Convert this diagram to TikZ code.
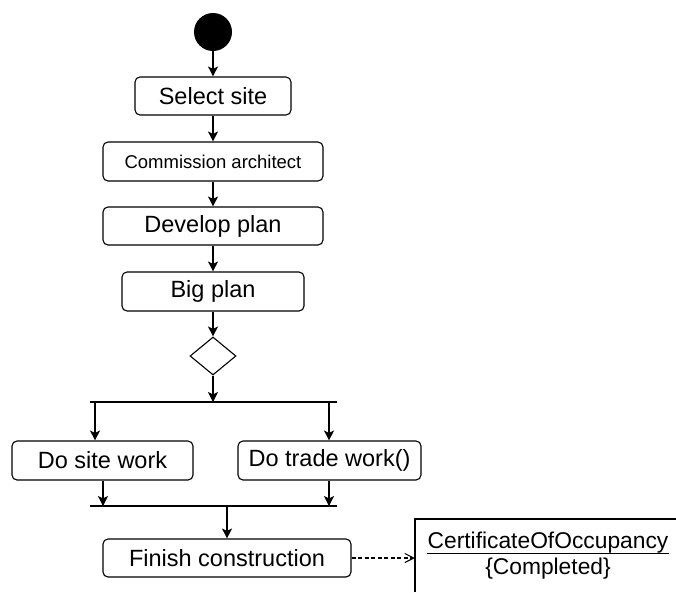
\documentclass[tikz,border=0pt]{standalone}
\usepackage{fontspec}
\setmainfont{Liberation Sans}
\usetikzlibrary{arrows.meta,shapes.geometric}
\tikzset{
  act/.style={draw, line width=1.1pt, rounded corners=5pt, inner sep=0pt, font=\fontsize{23.5}{27}\selectfont},
  smallact/.style={act, font=\fontsize{18.5}{22}\selectfont},
  flow/.style={line width=1.1pt, -{Stealth[length=10pt,width=10pt,inset=2.5pt]}},
  bar/.style={line width=1.1pt},
  dep/.style={line width=1.1pt, dash pattern=on 4pt off 2.5pt, -{Straight Barb[length=9pt,width=9pt]}},
  plain/.style={font=\fontsize{22.8}{26}\selectfont, inner sep=0pt, anchor=center},
}
\begin{document}
\begin{tikzpicture}[x=1pt,y=-1pt]
\useasboundingbox (0,0) rectangle (676,592);
\node[circle, fill=black, minimum size=38pt, inner sep=0pt] (start) at (213,32) {};
\node[act, minimum width=156pt, minimum height=38pt] (sel) at (213,96) {Select site};
\node[smallact, minimum width=220pt, minimum height=39pt] (com) at (213,161.5) {Commission architect};
\node[act, minimum width=220pt, minimum height=38pt] (dev) at (213,226) {Develop plan};
\node[act, minimum width=182pt, minimum height=39pt] (big) at (213,291.5) {Big plan};
\node[diamond, draw, line width=1.1pt, minimum width=46pt, minimum height=38pt, inner sep=0pt] (dec) at (213,356) {};
\coordinate (forkL) at (90,402);
\coordinate (forkR) at (337,402);
\coordinate (forkM) at (213,402);
\coordinate (forkA) at (95,402);
\coordinate (forkB) at (329,402);
\node[act, minimum width=181pt, minimum height=39pt] (site) at (102.5,460.5) {Do site work};
\node[act, minimum width=183pt, minimum height=39pt] (trade) at (329.5,460.5) {Do trade work()};
\coordinate (joinL) at (90,506);
\coordinate (joinR) at (337,506);
\coordinate (joinA) at (103,506);
\coordinate (joinB) at (329,506);
\coordinate (joinM) at (227,506);
\node[act, minimum width=248pt, minimum height=38pt] (fin) at (227,558) {Finish construction};
\coordinate (certTL) at (415,519);
\coordinate (certBL) at (415,592);
\coordinate (certTR) at (676,519);
\coordinate (certIn) at (415,558);
\node[plain, anchor=base] (certname) at (548,548) {CertificateOfOccupancy};
\node[plain, anchor=base] (certstate) at (548,574) {\{Completed\}};
\draw[line width=0.9pt] ([yshift=-0.3pt]certname.south west) -- ([yshift=-0.3pt]certname.south east);
\draw[line width=1.1pt] (certBL) -- (certTL) -- (certTR);

\draw[flow] (start) -- (sel);
\draw[flow] (sel) -- (com);
\draw[flow] (com) -- (dev);
\draw[flow] (dev) -- (big);
\draw[flow] (big) -- (dec);
\draw[flow] (dec) -- (forkM);
\draw[bar] (forkL) -- (forkR);
\draw[flow] (forkA) -- (forkA |- site.north);
\draw[flow] (forkB) -- (forkB |- trade.north);
\draw[flow] (joinA |- site.south) -- (joinA);
\draw[flow] (joinB |- trade.south) -- (joinB);
\draw[bar] (joinL) -- (joinR);
\draw[flow] (joinM) -- (fin);
\draw[dep] (fin) -- (certIn);
\end{tikzpicture}
\end{document}
